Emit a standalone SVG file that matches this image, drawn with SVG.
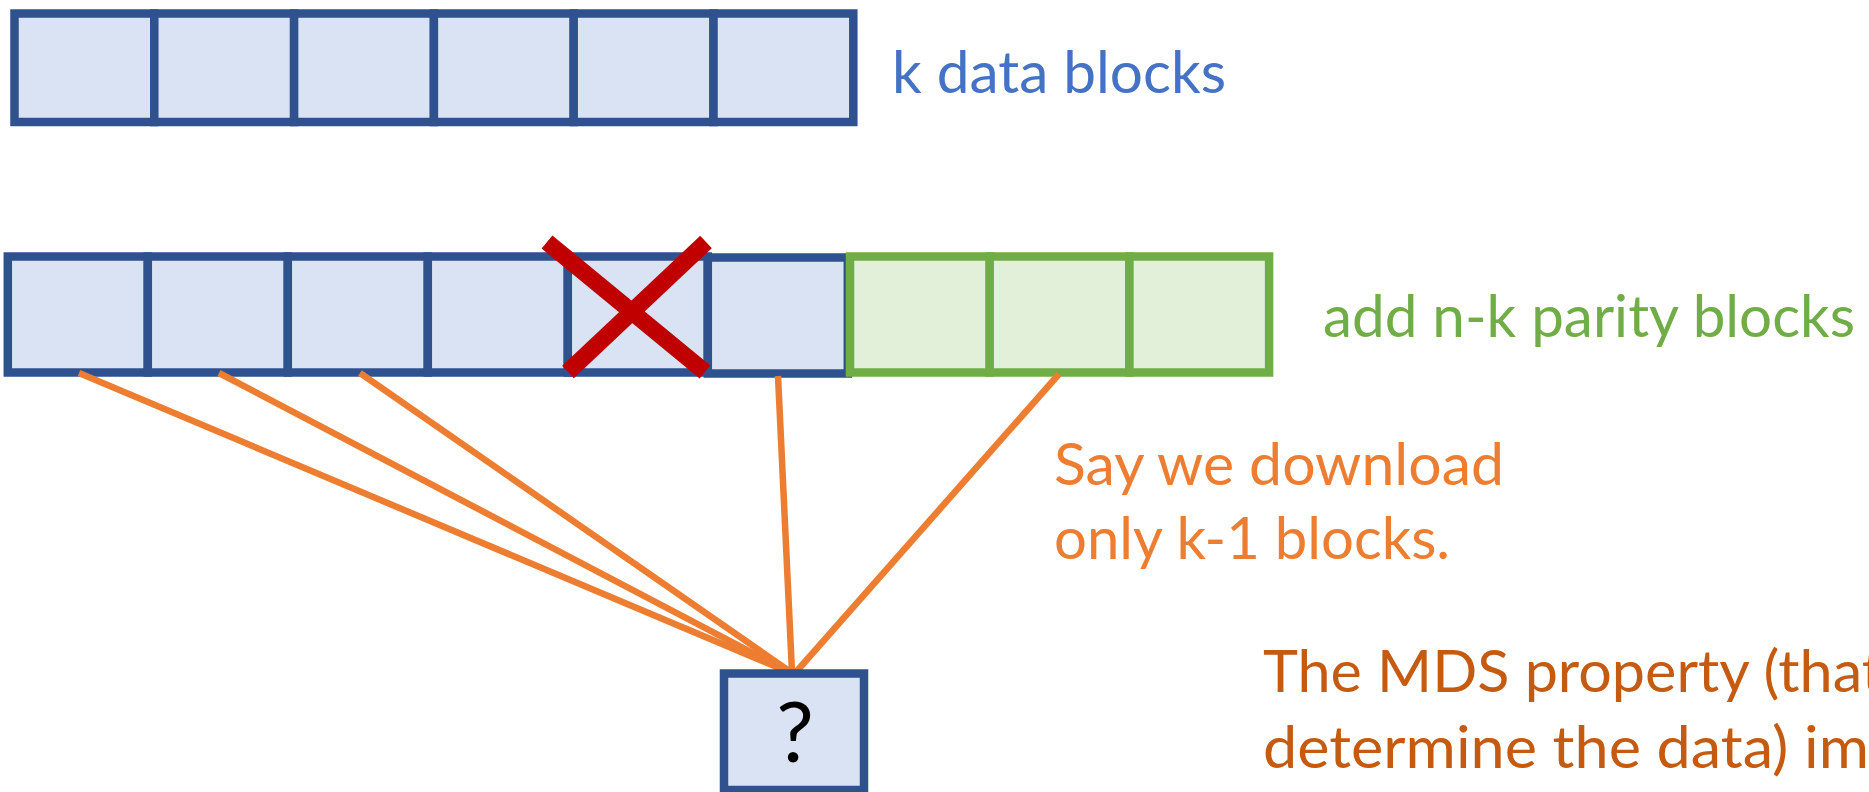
<svg xmlns="http://www.w3.org/2000/svg" width="1869" height="792" viewBox="0 0 1869 792">
  <style>
    .data { fill: #DAE3F3; stroke: #2F528F; stroke-width: 8.5; }
    .parity { fill: #E2F0D9; stroke: #70AD47; stroke-width: 8.5; }
    .link { stroke: #ED7D31; stroke-width: 6.5; fill: none; }
    .cross { stroke: #C00000; stroke-width: 17; stroke-linecap: butt; }
    .lbl { font-family: Lato, "Open Sans", "Liberation Sans", sans-serif; font-size: 59px; }
  </style>

  <rect x="0" y="0" width="1869" height="792" fill="#FFFFFF"/>

  <!-- original k data blocks -->
  <g id="data-row">
    <rect class="data" x="14.5" y="13.5" width="139.8" height="108.5"/>
    <rect class="data" x="154.3" y="13.5" width="139.8" height="108.5"/>
    <rect class="data" x="294.1" y="13.5" width="139.8" height="108.5"/>
    <rect class="data" x="433.9" y="13.5" width="139.8" height="108.5"/>
    <rect class="data" x="573.7" y="13.5" width="139.8" height="108.5"/>
    <rect class="data" x="713.5" y="13.5" width="139.8" height="108.5"/>
  </g>
  <g id="data-label">
    <text class="lbl" x="892" y="93" fill="#4472C4" textLength="334" lengthAdjust="spacingAndGlyphs">k data blocks</text>
  </g>

  <!-- encoded row: k data blocks followed by n-k parity blocks -->
  <g id="coded-data">
    <rect class="data" x="7.8" y="256.5" width="140" height="116"/>
    <rect class="data" x="147.8" y="256.5" width="140" height="116"/>
    <rect class="data" x="287.8" y="256.5" width="140" height="116"/>
    <rect class="data" x="427.8" y="256.5" width="140" height="116"/>
    <rect class="data" x="567.8" y="256.5" width="140" height="116"/>
    <rect class="data" x="707.8" y="257.5" width="140" height="116"/>
  </g>
  <g id="parity">
    <rect class="parity" x="850" y="256.5" width="139.7" height="116"/>
    <rect class="parity" x="989.7" y="256.5" width="139.7" height="116"/>
    <rect class="parity" x="1129.4" y="256.5" width="139.7" height="116"/>
  </g>
  <g id="parity-label">
    <text class="lbl" x="1323" y="337" fill="#70AD47" textLength="532" lengthAdjust="spacingAndGlyphs">add n-k parity blocks</text>
  </g>

  <!-- lost block -->
  <g id="lost-mark">
    <line class="cross" x1="547" y1="242" x2="705" y2="372"/>
    <line class="cross" x1="706" y1="242" x2="568" y2="372"/>
  </g>

  <!-- downloaded blocks feeding the decoder -->
  <g id="connectors">
    <line class="link" x1="79" y1="373" x2="791" y2="673"/>
    <line class="link" x1="219" y1="373" x2="791" y2="673"/>
    <line class="link" x1="360" y1="373" x2="792" y2="673"/>
    <line class="link" x1="778" y1="376" x2="792" y2="672"/>
    <line class="link" x1="1059" y1="374" x2="796" y2="672"/>
  </g>

  <g id="decoder">
    <rect class="data" x="724" y="673.5" width="140" height="116.5"/>
    <text x="795" y="762" text-anchor="middle" font-family="Lato, 'Open Sans', 'Liberation Sans', sans-serif" font-size="84" fill="#000000">?</text>
  </g>

  <g id="download-note">
    <text class="lbl" x="1054" y="485" fill="#ED7D31" textLength="450" lengthAdjust="spacingAndGlyphs">Say we download</text>
    <text class="lbl" x="1054" y="559" fill="#ED7D31" textLength="396" lengthAdjust="spacingAndGlyphs">only k-1 blocks.</text>
  </g>

  <g id="mds-note">
    <text class="lbl" x="1263" y="692" fill="#C55A11" textLength="620" lengthAdjust="spacingAndGlyphs">The MDS property (that</text>
    <text class="lbl" x="1263" y="768" fill="#C55A11" textLength="606" lengthAdjust="spacingAndGlyphs">determine the data) im</text>
  </g>
</svg>
